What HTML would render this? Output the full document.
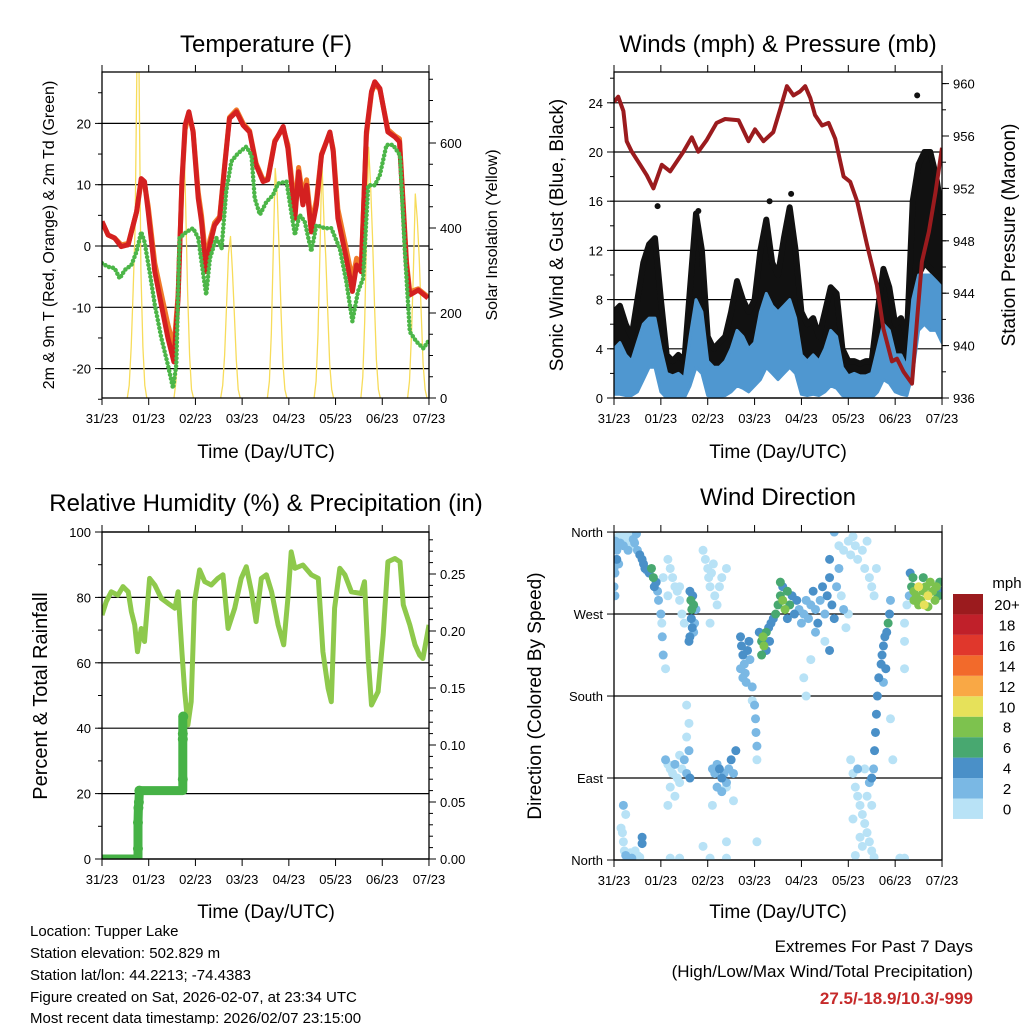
<!DOCTYPE html>
<html><head><meta charset="utf-8"><style>
html,body{margin:0;padding:0;background:#fff}
svg{display:block;font-family:"Liberation Sans",Arial,sans-serif}
</style></head><body>
<svg id="s" width="1024" height="1024" viewBox="0 0 1024 1024" xmlns="http://www.w3.org/2000/svg">
<defs>
<clipPath id="c1"><rect x="102" y="72" width="327" height="326"/></clipPath>
<clipPath id="c2"><rect x="614" y="72" width="328" height="326"/></clipPath>
<clipPath id="c3"><rect x="102" y="532" width="327" height="327"/></clipPath>
<clipPath id="c4"><rect x="614" y="532" width="328" height="328"/></clipPath>
</defs>
<g id="g1"></g>
<g id="g2"></g>
<g id="g3"></g>
<g id="g4"></g>
<g id="gt">
<text x="266" y="52" font-size="24" text-anchor="middle">Temperature (F)</text>
<text x="778" y="52" font-size="24" text-anchor="middle">Winds (mph) &amp; Pressure (mb)</text>
<text x="266" y="511" font-size="24" text-anchor="middle">Relative Humidity (%) &amp; Precipitation (in)</text>
<text x="778" y="505" font-size="24" text-anchor="middle">Wind Direction</text>
<text transform="translate(54,235) rotate(-90)" font-size="16" text-anchor="middle">2m &amp; 9m T (Red, Orange) &amp; 2m Td (Green)</text>
<text transform="translate(497,235) rotate(-90)" font-size="16" text-anchor="middle">Solar Insolation (Yellow)</text>
<text transform="translate(563,235) rotate(-90)" font-size="19" text-anchor="middle">Sonic Wind &amp; Gust (Blue, Black)</text>
<text transform="translate(1015,235) rotate(-90)" font-size="19" text-anchor="middle">Station Pressure (Maroon)</text>
<text transform="translate(47,696) rotate(-90)" font-size="20" text-anchor="middle">Percent &amp; Total Rainfall</text>
<text transform="translate(541,696) rotate(-90)" font-size="19" text-anchor="middle">Direction (Colored By Speed)</text>
<text x="266" y="458" font-size="19" text-anchor="middle">Time (Day/UTC)</text>
<text x="778" y="458" font-size="19" text-anchor="middle">Time (Day/UTC)</text>
<text x="266" y="918" font-size="19" text-anchor="middle">Time (Day/UTC)</text>
<text x="778" y="918" font-size="19" text-anchor="middle">Time (Day/UTC)</text>
<g font-size="15">
<text x="30" y="936">Location: Tupper Lake</text>
<text x="30" y="958">Station elevation: 502.829 m</text>
<text x="30" y="980">Station lat/lon: 44.2213; -74.4383</text>
<text x="30" y="1002">Figure created on Sat, 2026-02-07, at 23:34 UTC</text>
<text x="30" y="1023">Most recent data timestamp: 2026/02/07 23:15:00</text>
</g>
<text x="973" y="952" font-size="17" text-anchor="end">Extremes For Past 7 Days</text>
<text x="973" y="977" font-size="17" text-anchor="end">(High/Low/Max Wind/Total Precipitation)</text>
<text x="973" y="1004" font-size="17" font-weight="bold" fill="#c62a2a" text-anchor="end">27.5/-18.9/10.3/-999</text>
</g>
</svg>
<script>
// ---------- data ----------
const dayLabels=["31/23","01/23","02/23","03/23","04/23","05/23","06/23","07/23"];
const tempT=[0,0.13,0.27,0.41,0.56,0.63,0.74,0.84,0.91,0.99,1.13,1.27,1.41,1.54,1.63,1.71,1.78,1.86,1.95,2.06,2.13,2.23,2.31,2.41,2.52,2.63,2.73,2.88,3.02,3.16,3.30,3.45,3.55,3.70,3.88,3.98,4.09,4.13,4.21,4.30,4.38,4.48,4.59,4.70,4.88,4.95,5.05,5.23,5.36,5.45,5.55,5.66,5.77,5.84,5.95,6.12,6.27,6.37,6.52,6.59,6.77,6.98];
const temp2m=[4.0,1.8,1.3,-0.1,0.2,2.3,5.6,11,10.5,5.6,-4.2,-9.6,-15,-18.9,-8.5,10.5,19.7,21.9,18.6,7.8,4,-4.2,0.2,3.4,4.5,13.2,20.8,21.9,19.7,18.6,13.2,10.5,10.8,17,19.5,15.9,7.8,4.5,12.1,6.7,9.9,2.3,6.7,14.8,18.6,15.4,4.5,-2,-7.4,-3.1,-4.2,18.6,25.2,26.8,25.7,18.6,17.8,17,-3.1,-8,-7.2,-8.5];
const temp9m=[4.0,1.8,1.3,0.2,0.4,2.3,5.6,10.5,10.2,6.5,-2.8,-7.8,-12.8,-16.5,-8,10,19,21.5,18.8,8.8,5,-2.6,1,3.8,4.8,13.5,21,22.2,20,18.8,13.5,10.8,11,17.2,19.2,16.5,9,6,12.8,8,10.8,3.5,7.5,15,18.4,15.8,6,-0.5,-5.5,-2,-3.5,18,25,26.5,25.5,19,18,17.5,-2.5,-7.5,-7,-8.3];
const dewT=[0,0.13,0.27,0.38,0.49,0.63,0.74,0.84,0.91,1.02,1.13,1.27,1.41,1.52,1.59,1.66,1.81,1.95,2.06,2.16,2.23,2.31,2.45,2.56,2.66,2.77,2.91,3.09,3.20,3.27,3.38,3.52,3.66,3.77,3.95,4.05,4.13,4.23,4.34,4.48,4.59,4.77,4.91,5.09,5.23,5.36,5.48,5.59,5.70,5.84,5.95,6.09,6.23,6.38,6.48,6.59,6.73,6.88,6.98];
const dew2m=[-2.8,-3.4,-3.6,-5.3,-3.9,-3.1,-0.9,2.3,0.7,-4.2,-9.6,-15,-19.4,-23.2,-19.4,1.3,2.3,2.9,1.3,-4.2,-8,-2,1.3,-0.4,8.9,13.8,15.1,16.2,14.8,7.8,5.1,7.2,8.3,10.2,10.5,5.6,1.8,5.1,4,-0.9,3.4,2.9,2.9,-0.4,-5.8,-12.3,-7.4,-5.3,9.9,9.9,11.6,16.5,16.5,14.8,-0.4,-14,-15.6,-16.7,-15.6];
const solarHours=[12,13,14,15,16,17,18,19,20,21,22];
const solarDays=[
 [0,30,120,250,400,800,780,300,120,30,0],
 [0,40,150,350,550,620,450,250,100,20,0],
 [0,30,100,220,340,380,300,200,90,20,0],
 [0,40,150,350,540,480,350,200,80,20,0],
 [0,40,150,350,560,420,330,200,80,20,0],
 [0,50,180,400,590,500,380,220,90,20,0],
 [0,40,150,300,480,420,330,200,80,20,0]];
const presT=[0,0.09,0.2,0.27,0.38,0.56,0.70,0.84,1.02,1.20,1.48,1.66,1.80,1.98,2.19,2.37,2.66,2.87,3.01,3.19,3.40,3.55,3.69,3.83,3.97,4.08,4.19,4.29,4.44,4.58,4.72,4.90,5.04,5.19,5.40,5.61,5.75,5.93,6.04,6.18,6.36,6.47,6.57,6.72,6.86,7.0];
const presVal=[958.6,959,957.9,955.6,954.8,953.8,953,952,953.8,953.3,954.8,955.9,954.8,955.7,957,957.3,957.2,955.6,956.5,955.6,956.3,958.1,959.8,959.1,959.4,959.8,958.9,957.6,956.8,957,955.8,952.9,952.5,951,947.7,944.6,941.3,938.8,939,938,937.1,942.1,946.4,948.7,951.7,955.1];
const windStep=0.125;
const gustHigh=[7,7.5,6,5,8,11,12.5,13,8,3.5,3,3.5,3,9,15,12,5,4,4.5,5,7,9.5,8,7,8,12,14.5,11,10,13,15.5,12,7,6,6.5,5,7,9,8.5,4,3,3,2.8,3,3,7,10.5,9,6,6.5,5,16,19,20,20,18,15];
const gustLow=[1.6,1.5,1.4,1.3,2,4,5,5.5,2,0.5,0.5,0.5,0.4,3,6.5,5,1.2,0.8,1,1,2,3,2.5,2,2.5,4.5,6,5,4,5,6,5,2,1.5,2,1.5,2.5,3.5,3,1,0.8,0.5,0.5,0.6,0.5,2.5,4,3.5,2,1.5,1,8,10,11,10.5,10,7];
const sonicHigh=[4,4.5,3.5,3,4.5,6,6.5,6.5,4,2,1.8,2,1.6,5,8,7,3,2.5,2.5,3,4,5.5,5,4,4.5,7,8.5,7.5,7,7.5,8,6.5,3.5,3,3.5,3,4,5.5,5,2.5,1.8,2,1.8,1.8,2,4,6,5.5,3.5,3.5,2.5,8,10,10,10,9.5,9];
const sonicLow=[0.3,0.3,0.2,0.2,0.5,1.5,2.5,2.5,0.5,0,0,0,0,1,2.5,2,0.2,0,0.1,0.2,0.5,1,0.8,0.5,1,1.5,2.5,2,1.5,2,2.5,2,0.3,0.2,0.3,0.2,0.5,1,0.8,0.2,0,0,0,0,0,0.5,1.5,1.2,0.5,0.3,0.2,2,5.5,6,5.5,5.5,4.5];
const gustOutT=[6.47,0.93,3.78,3.32,1.80];
const gustOutV=[24.6,15.6,16.6,16.0,15.2];
const rhT=[0,0.09,0.2,0.34,0.45,0.56,0.63,0.70,0.76,0.84,0.91,1.02,1.13,1.27,1.41,1.56,1.63,1.71,1.77,1.84,1.91,1.98,2.09,2.20,2.34,2.48,2.59,2.70,2.84,2.98,3.09,3.20,3.30,3.41,3.52,3.63,3.77,3.89,3.98,4.05,4.13,4.30,4.48,4.63,4.73,4.84,4.91,4.98,5.09,5.20,5.34,5.55,5.62,5.70,5.77,5.91,6.02,6.12,6.27,6.38,6.45,6.59,6.70,6.80,6.87,7.0];
const rhVal=[74.6,78.7,81.7,80.7,83.3,81.7,75.6,71.6,63.4,70.5,66.5,85.8,83.8,79.7,78.2,76.7,81.7,63.4,51.2,41,48.1,78.7,88.4,84.8,83.8,85.8,86.9,70.5,76.7,85.8,89.4,81.7,72.6,85.8,86.9,81.7,71.6,65.5,79.7,93.9,88.9,89.9,86.9,85.8,63.4,52.2,48.1,76.7,88.9,86.9,81.7,81.2,84.8,61.3,47.1,51.2,68.5,90.9,91.9,90.9,77.7,71.6,65.5,62.4,61.3,71.6];
const precT=[0,0.77,0.77,0.77,0.78,0.79,0.80,1.73,1.73,1.73,1.73];
const precVal=[0,0,0.009,0.032,0.045,0.05,0.06,0.06,0.07,0.105,0.125];
const precObsT=[0.77,0.77,0.78,0.79,0.80,1.73,1.73,1.73,1.74];
const precObsV=[0.009,0.032,0.045,0.05,0.06,0.07,0.105,0.11,0.125];
const dirPts=[[0,345,2],[0.03,350,2],[0.06,340,2],[0.06,330,4],[0.1,355,0],[0.13,348,2],[0.17,352,0],[0.2,345,2],[0.24,358,0],[0.27,350,0],[0.3,340,2],[0.34,355,0],[0.37,345,0],[0.41,352,2],[0.44,348,2],[0.48,358,2],[0.5,340,2],[0.55,335,4],[0.6,330,4],[0.63,325,4],[0.66,320,4],[0.7,318,2],[0.75,315,4],[0.8,320,6],[0.84,310,6],[0.86,300,4],[0.9,305,4],[0.93,295,2],[0.95,285,2],[1.0,270,2],[1.02,260,0],[1.03,245,2],[1.05,225,2],[0.02,315,2],[0,320,2],[0.1,325,2],[0,300,2],[0.02,290,2],
[1.15,330,0],[1.2,320,0],[1.25,310,0],[1.3,300,0],[1.35,295,0],[1.4,285,0],[1.45,270,0],[1.5,260,0],[1.15,290,0],[1.4,300,0],[1.1,210,0],[1.55,170,0],[1.05,310,0],
[1.62,295,4],[1.64,285,6],[1.66,275,6],[1.68,290,4],[1.7,280,6],[1.65,265,4],[1.67,255,4],[1.62,245,4],[1.7,250,2],[1.72,260,2],[1.6,240,4],[1.75,275,2],
[1.9,340,0],[1.95,330,0],[2.0,320,0],[2.02,310,0],[2.05,300,0],[2.08,315,0],[2.12,325,0],[2.15,290,0],[2.2,280,0],[2.25,300,0],[2.3,310,0],[2.4,320,0],[2.05,260,0],
[1.1,110,2],[1.15,105,0],[1.2,100,0],[1.25,95,0],[1.3,105,2],[1.35,90,0],[1.4,85,0],[1.45,100,0],[1.5,110,2],[1.55,95,2],[1.6,120,2],[1.62,90,4],[1.2,80,0],[1.3,70,0],[1.4,115,0],[1.55,135,0],[1.6,150,0],[1.15,60,0],
[2.1,100,2],[2.15,95,2],[2.2,105,2],[2.25,100,4],[2.3,90,4],[2.35,95,2],[2.4,85,2],[2.45,100,2],[2.5,110,4],[2.55,95,2],[2.6,120,4],[2.2,80,2],[2.3,75,2],[2.4,80,0],[2.1,60,0],[2.55,65,0],
[0.15,35,0],[0.18,30,0],[0.2,20,0],[0.22,10,0],[0.25,5,2],[0.3,5,0],[0.35,8,0],[0.4,3,0],[0.45,10,0],[0.5,5,0],[0.55,3,0],[0.25,50,0],[0.6,25,4],[0.6,18,4],[0.3,0,0],[0.2,60,2],[0.38,2,2],
[1.2,2,0],[1.4,2,0],[2.05,2,0],[2.4,2,0],[2.4,20,0],[1.9,15,0],[3.05,20,0],
[2.7,245,4],[2.72,235,4],[2.75,225,4],[2.78,215,2],[2.8,205,2],[2.75,200,2],[2.7,210,2],[2.82,195,2],[2.85,230,4],[2.88,240,4],[2.9,220,2],[2.95,190,2],[3.0,170,2],[3.02,155,2],[3.03,140,2],[3.05,125,2],[3.05,110,0],[2.95,175,0],
[3.1,250,4],[3.15,240,6],[3.18,245,8],[3.2,235,8],[3.25,250,6],[3.3,255,4],[3.32,240,4],[3.15,225,6],[3.25,230,4],[3.35,260,4],[3.4,265,4],[3.45,270,6],
[3.5,280,6],[3.55,290,6],[3.6,285,8],[3.65,275,8],[3.7,295,6],[3.75,280,6],[3.8,290,4],[3.85,270,4],[3.6,300,4],[3.7,265,4],[3.9,285,4],[3.95,275,2],[4.0,260,2],[3.55,305,6],
[4.05,270,2],[4.1,285,2],[4.15,265,2],[4.2,280,2],[4.25,295,4],[4.3,275,2],[4.35,260,4],[4.4,285,2],[4.45,300,4],[4.5,270,2],[4.55,290,4],[4.6,310,4],[4.65,280,4],[4.7,265,4],[4.75,300,2],[4.8,320,2],[4.85,290,0],[4.9,275,2],[4.95,255,0],[5.0,270,0],[4.3,250,2],[4.5,240,0],[4.2,220,0],[4.05,200,0],[4.1,180,0],[4.6,230,4],
[4.8,345,0],[4.9,340,0],[5.0,350,0],[5.05,335,0],[5.1,355,0],[5.15,345,0],[5.2,330,0],[5.3,340,0],[5.35,320,0],[5.4,350,0],[5.45,310,0],[5.5,300,0],[5.55,290,0],[5.6,320,0],[4.7,360,2],[4.6,330,4],
[5.05,110,0],[5.1,95,0],[5.15,80,0],[5.2,70,0],[5.25,60,0],[5.3,50,0],[5.35,40,0],[5.4,30,0],[5.45,20,0],[5.5,10,0],[5.55,3,0],[5.15,5,0],[5.25,25,0],[5.35,100,0],[5.45,85,2],[5.1,45,0],[5.3,15,0],[5.4,70,0],[5.2,100,2],[5.5,60,0],
[5.65,200,4],[5.7,215,4],[5.72,225,4],[5.75,235,4],[5.78,245,4],[5.8,210,4],[5.82,250,4],[5.85,260,6],[5.88,270,4],[5.9,285,2],[5.62,180,4],[5.6,160,4],[5.58,140,4],[5.56,120,4],[5.54,100,2],[5.5,90,4],[5.75,195,2],[5.9,155,0],[5.95,110,0],
[6.35,300,6],[6.38,310,6],[6.4,295,8],[6.45,290,8],[6.5,300,10],[6.55,285,8],[6.6,295,8],[6.62,280,10],[6.65,300,8],[6.7,290,10],[6.75,305,8],[6.8,295,8],[6.85,285,8],[6.88,300,8],[6.92,290,6],[6.95,305,6],[6.98,295,4],[6.5,280,8],[6.7,278,8],[6.4,285,8],[6.3,290,2],[6.25,280,0],[6.2,260,0],[6.32,315,4],[6.6,310,6],
[6.2,2,0],[6.1,2,0],[6.2,240,0],[6.2,210,0]];
const speedBins=[0,2,4,6,8,10,12,14,16,18,20];
const speedLabels=["0","2","4","6","8","10","12","14","16","18","20+"];
const speedColors=["#b8e2f6","#7ab8e4","#4a90c8","#48a870","#7dc24e","#e6e15a","#f9a845","#f26a2b","#e0372c","#c0202a","#9b1b1e"];

// ---------- scales ----------
const NS="http://www.w3.org/2000/svg";
const xL=t=>102+t*46.71, xR=t=>614+t*46.86;
const yT=v=>246-v*6.13, yS=v=>398-v*0.425;
const yW=v=>398-v*12.3, yP=p=>398-(p-936)*13.1;
const yRH=v=>859-v*3.27, yPr=v=>859-v*1140;
const yD=d=>860-d*0.911;
function mk(parent,tag,attrs){const e=document.createElementNS(NS,tag);for(const k in attrs)e.setAttribute(k,attrs[k]);parent.appendChild(e);return e;}
function pathFrom(ts,vs,fx,fy){return ts.map((t,i)=>(i?"L":"M")+fx(t).toFixed(1)+","+fy(vs[i]).toFixed(1)).join("");}
function txt(parent,x,y,s,anchor,size){const e=mk(parent,"text",{x:x,y:y,"font-size":size||13,"text-anchor":anchor||"middle"});e.textContent=s;return e;}

function frame(g,x0,y0,x1,y1,fx){
  dayLabels.forEach((lab,i)=>{const x=fx(i);
    mk(g,"line",{x1:x,y1:y1,x2:x,y2:y1+7,stroke:"#000","stroke-width":1});
    mk(g,"line",{x1:x,y1:y0,x2:x,y2:y0-7,stroke:"#000","stroke-width":1});
    const t=txt(g,x,y1+25,lab,"middle",13);
    
    
  });
  const r=mk(g,"rect",{x:x0,y:y0,width:x1-x0,height:y1-y0,fill:"none",stroke:"#000","stroke-width":1.3});
  
  
}
function yAxis(g,vals,fy,x,side,labelFn,minor,grid,gx0,gx1){
  if(minor) minor.forEach(v=>{const y=fy(v);mk(g,"line",{x1:x,y1:y,x2:x+(side<0?-4:4),y2:y,stroke:"#000","stroke-width":1});});
  vals.forEach(v=>{const y=fy(v);
    if(grid) mk(g,"line",{x1:gx0,y1:y,x2:gx1,y2:y,stroke:"#000","stroke-width":1.2});
    mk(g,"line",{x1:x,y1:y,x2:x+(side<0?-7:7),y2:y,stroke:"#000","stroke-width":1});
    const t=txt(g,x+(side<0?-11:11),y+5,labelFn(v),side<0?"end":"start",13);
    
    
  });
}
function range(a,b,s){const r=[];for(let v=a;v<=b+1e-9;v+=s)r.push(+v.toFixed(4));return r;}

// ---------- panel 1 ----------
const g1=document.getElementById("g1");
yAxis(g1,[-20,-10,0,10,20],yT,102,-1,v=>String(v),range(-25,25,5),true,102,429);
yAxis(g1,[0,200,400,600],yS,429,1,v=>String(v),range(0,750,50),false);
const c1=mk(g1,"g",{"clip-path":"url(#c1)"});
solarDays.forEach((vals,d)=>{
  const ts=solarHours.map(h=>(24*d+1+h)/24);
  const p=mk(c1,"path",{d:pathFrom(ts,vals,xL,yS),fill:"none",stroke:"#f7dc5a","stroke-width":1.3,"stroke-linejoin":"round"});
  
  
});
let p=mk(c1,"path",{d:pathFrom(tempT,temp9m,xL,yT),fill:"none",stroke:"#f07a2a","stroke-width":5,"stroke-linejoin":"round"});


p=mk(c1,"path",{d:pathFrom(tempT,temp2m,xL,yT),fill:"none",stroke:"#d42020","stroke-width":5,"stroke-linejoin":"round"});


p=mk(c1,"path",{d:pathFrom(dewT,dew2m,xL,yT),fill:"none",stroke:"#4cb648","stroke-width":4.5,"stroke-linecap":"round","stroke-dasharray":"0 4"});


frame(g1,102,72,429,398,xL);

// ---------- panel 2 ----------
const g2=document.getElementById("g2");
yAxis(g2,[0,4,8,12,16,20,24],yW,614,-1,v=>String(v),range(0,26,2),true,614,942);
yAxis(g2,[936,940,944,948,952,956,960],yP,942,1,v=>String(v),range(936,960,2),false);
const c2=mk(g2,"g",{"clip-path":"url(#c2)"});
const wT=gustHigh.map((_,i)=>i*windStep);
function band(g,hi,lo,color,name,w){
  const d=pathFrom(wT,hi,xR,yW)+wT.slice().reverse().map((t,i)=>"L"+xR(t).toFixed(1)+","+yW(lo[lo.length-1-i]).toFixed(1)).join("")+"Z";
  const e=mk(g,"path",{d:d,fill:color,stroke:color,"stroke-width":w,"stroke-linejoin":"round"});
  
  
}
band(c2,gustHigh,gustLow,"#111","gust-band",6);
gustOutT.forEach((t,i)=>{const c=mk(c2,"circle",{cx:xR(t),cy:yW(gustOutV[i]),r:3,fill:"#111"});
  
  });
band(c2,sonicHigh,sonicLow,"#4f97d0","sonic-wind-band",3);
p=mk(c2,"path",{d:pathFrom(presT,presVal,xR,yP),fill:"none",stroke:"#9b1b1e","stroke-width":4,"stroke-linejoin":"round"});


frame(g2,614,72,942,398,xR);

// ---------- panel 3 ----------
const g3=document.getElementById("g3");
yAxis(g3,[0,20,40,60,80,100],yRH,102,-1,v=>String(v),range(0,100,10),true,102,429);
yAxis(g3,[0,0.05,0.1,0.15,0.2,0.25],yPr,429,1,v=>v.toFixed(2),range(0,0.28,0.01),false);
const c3=mk(g3,"g",{"clip-path":"url(#c3)"});
p=mk(c3,"path",{d:pathFrom(rhT,rhVal,xL,yRH),fill:"none",stroke:"#8ec94c","stroke-width":5,"stroke-linejoin":"round"});


p=mk(c3,"path",{d:pathFrom(precT,precVal,xL,yPr),fill:"none",stroke:"#46b246","stroke-width":9,"stroke-linecap":"round","stroke-linejoin":"round"});


precObsT.forEach((t,i)=>{const c=mk(c3,"circle",{cx:xL(t),cy:yPr(precObsV[i]),r:5,fill:"#46b246"});
  
  });
frame(g3,102,532,429,859,xL);

// ---------- panel 4 ----------
const g4=document.getElementById("g4");
yAxis(g4,[0,90,180,270,360],yD,614,-1,v=>({0:"North",90:"East",180:"South",270:"West",360:"North"})[v],null,true,614,942);
const c4=mk(g4,"g",{"clip-path":"url(#c4)"});
dirPts.slice().sort((a,b)=>a[2]-b[2]).forEach(pt=>{
  const bi=speedBins.indexOf(pt[2]);
  const c=mk(c4,"circle",{cx:xR(pt[0]),cy:yD(pt[1]),r:4.5,fill:speedColors[bi<0?0:bi]});
  
  
});
frame(g4,614,532,942,860,xR);
const cb=mk(g4,"g",{});


txt(cb,1007,588,"mph","middle",15);
speedLabels.forEach((lab,i)=>{const j=speedLabels.length-1-i;const y=594+j*20.45;
  const r=mk(cb,"rect",{x:953,y:y,width:30,height:20.45,fill:speedColors[i]});
  
  
  const t=txt(cb,1007,y+16,lab,"middle",15);
  
  
});
</script>
</body></html>
